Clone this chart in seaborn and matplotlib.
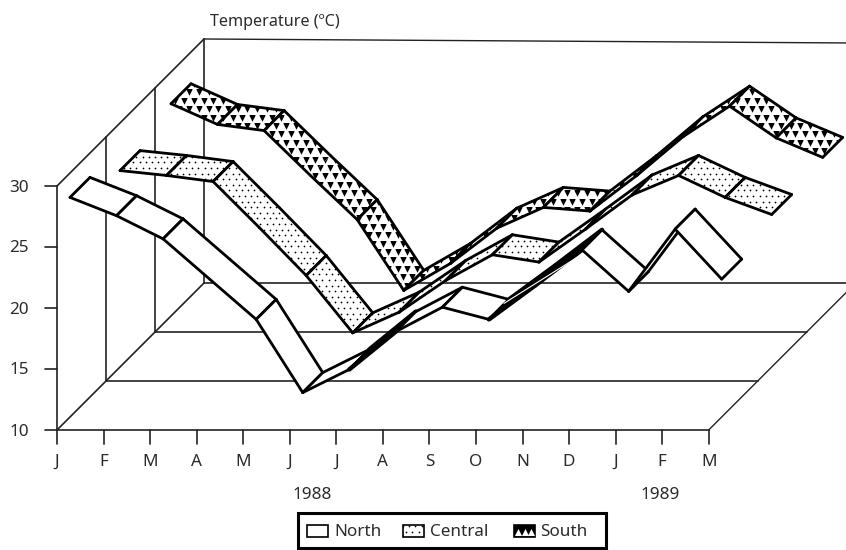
import numpy as np
import pandas as pd
import seaborn as sns
import matplotlib.pyplot as plt
from matplotlib.patches import Polygon, Rectangle

sns.set_style("white")
plt.rcParams['font.family'] = ['Noto Sans', 'DejaVu Sans']

months = ["J", "F", "M", "A", "M", "J", "J", "A", "S", "O", "N", "D", "J", "F", "M"]
temp_ticks = [10, 15, 20, 25, 30]
north = [28.0, 26.5, 24.6, 21.3, 18.0, 12.0, 13.9, 17.0, 19.0, 18.0, 20.8, 23.7, 20.3, 25.4, 21.3]
central = [26.1, 25.7, 25.2, 21.4, 17.5, 12.8, 14.5, 17.1, 19.2, 18.6, 21.3, 24.1, 25.7, 23.9, 22.5]
south = [27.4, 25.7, 25.2, 21.5, 17.9, 12.1, 14.3, 17.2, 18.9, 18.6, 21.5, 24.7, 27.2, 24.6, 23.0]

# layout of the fake 3d box, in pixels
x0, y0 = 57, 430
dx = 46.55
dy = 12.2
box_depth = 147
ribbon = 20
depths = {"North": 13, "Central": 63, "South": 114}
black_segments = {"North": [6, 9, 10], "Central": [], "South": []}
no_cross = [3]
text_color = "#2b2b2b"


def project(i, t, depth=0):
    return x0 + dx * i + depth, y0 - (t - 10) * dy - depth


def line(xs, ys, lw=1.2, color="#222222"):
    sns.lineplot(x=xs, y=ys, sort=False, estimator=None, color=color, lw=lw, ax=ax, legend=False)


def texture(kind, patch):
    # pattern fill clipped to a patch
    x1, y1, x2, y2 = patch.get_path().get_extents(patch.get_patch_transform()).extents
    if kind == "North":
        return
    if kind == "Central":
        step_x, step_y, marker, size = 6.2, 5.6, "o", 1.6
    else:
        step_x, step_y, marker, size = 9.7, 8.4, "v", 22
    rows = np.arange(np.floor(y1 / step_y), np.ceil(y2 / step_y) + 1)
    for r in rows:
        xs = np.arange(np.floor(x1 / step_x) - 1, np.ceil(x2 / step_x) + 1) * step_x + (r % 2) * step_x / 2
        pts = ax.scatter(xs, np.full(len(xs), r * step_y), marker=marker, s=size, color="black", linewidths=0, zorder=patch.get_zorder())
        pts.set_clip_path(patch)


fig = plt.figure(figsize=(8.46, 5.5), dpi=100)
ax = fig.add_axes([0, 0, 1, 1])
ax.set_xlim(0, 846)
ax.set_ylim(550, 0)
ax.set_axis_off()

# walls and floor
top = project(0, 30)[1]
for frac in [0, 1 / 3, 2 / 3, 1]:
    d = box_depth * frac
    fx, fy = project(0, 10, d)
    if frac > 0:
        line([fx, fx], [fy, top - d])
    line([fx, x0 + dx * 14 + d], [fy, fy])
line([x0, x0], [top, y0])
line([x0, x0 + box_depth], [top, top - box_depth])
line([x0, x0 + box_depth], [y0, y0 - box_depth])
line([x0 + dx * 14, x0 + dx * 14 + box_depth], [y0, y0 - box_depth], lw=1.0)
line([x0 + box_depth, 855], [top - box_depth, top - box_depth + 4], lw=1.0)

for t in temp_ticks:
    _, ty = project(0, t)
    line([x0 - 12, x0], [ty, ty])
    ax.text(x0 - 28, ty + 1.5, str(t), ha="right", va="center", fontsize=12.3, color=text_color)
for i, m in enumerate(months):
    tx, _ = project(i, 10)
    line([tx, tx], [y0, y0 + 14])
    ax.text(tx, y0 + 31.5, m, ha="center", va="center", fontsize=12.3, color=text_color)
ax.text(312, 495, "1988", ha="center", va="center", fontsize=12.3, color=text_color)
ax.text(660, 495, "1989", ha="center", va="center", fontsize=12.3, color=text_color)
ax.text(210, 21.5, "Temperature (ºC)", ha="left", va="center", fontsize=11.6, color=text_color)

# ribbons, back one first
z = 3
for name, values in [("South", south), ("Central", central), ("North", north)]:
    d = depths[name]
    front = [project(i, t, d) for i, t in enumerate(values)]
    back = [project(i, t, d + ribbon) for i, t in enumerate(values)]
    for i in range(len(values) - 1):
        z += 1
        corners = [front[i], back[i], back[i + 1], front[i + 1]]
        dark = i in black_segments[name]
        patch = Polygon(corners, closed=True, facecolor="black" if dark else "white", edgecolor="none", zorder=z)
        ax.add_patch(patch)
        if not dark:
            texture(name, patch)
        z += 1
        width = 3.2 if dark else 2
        edges = pd.DataFrame(corners[1:3], columns=["x", "y"])
        line(edges.x, edges.y, lw=width, color="black")
        edges = pd.DataFrame([corners[0], corners[3]], columns=["x", "y"])
        line(edges.x, edges.y, lw=width, color="black")
        count = 2
        for idx in [i, i + 1]:
            if idx not in no_cross:
                line([front[idx][0], back[idx][0]], [front[idx][1], back[idx][1]], lw=2, color="black")
                count += 1
        for ln in ax.lines[-count:]:
            ln.set_zorder(z)

# thin light sliver left inside the dark north ribbon
d = depths["North"] + 15
z += 1
sx = [project(9, north[9], d)[0], project(10.6, (north[10] + north[11]) / 2, d)[0]]
sy = [project(9, north[9], d)[1] - 1, project(10.6, (north[10] + north[11]) / 2, d)[1] + 4]
line(sx, sy, lw=0.8, color="white")
ax.lines[-1].set_zorder(z)

# legend
ax.add_patch(Rectangle((298, 513), 308, 35, facecolor="white", edgecolor="black", lw=2.2, zorder=200))
ax.add_patch(Rectangle((605, 513), 2, 36, facecolor="black", edgecolor="none", zorder=201))
ax.add_patch(Rectangle((298, 547), 309, 2, facecolor="black", edgecolor="none", zorder=201))
for name, lx, tx in [("North", 307, 334), ("Central", 403, 430), ("South", 514, 540)]:
    south_key = name == "South"
    swatch = Rectangle((lx, 524.5), 21, 12.5, facecolor="black" if south_key else "white", edgecolor="black", lw=1.2, zorder=201)
    ax.add_patch(swatch)
    if south_key:
        ax.scatter(np.array([0, 1, 2]) * 6.8 + lx + 3.8, np.full(3, 532.0), marker="^", s=26, color="white", linewidths=0, zorder=202)
    else:
        texture(name, swatch)
    ax.text(tx, 532, name, ha="left", va="center", fontsize=12.3, color=text_color, zorder=202)

fig.savefig("out.png", dpi=100)
